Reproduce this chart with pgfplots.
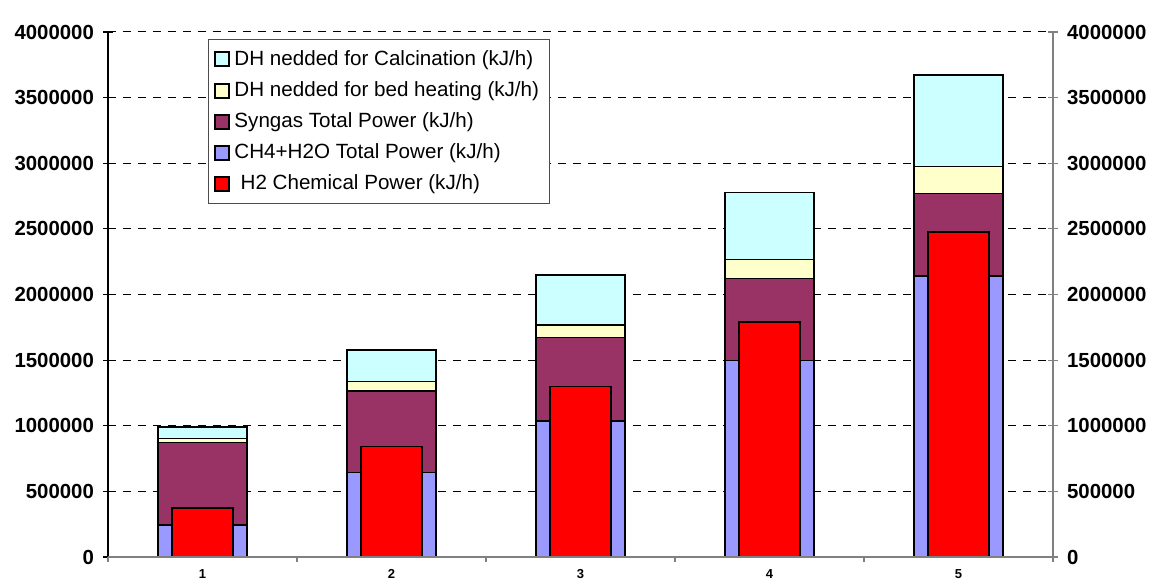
\documentclass[border=0pt]{standalone}
\usepackage{pgfplots}
\pgfplotsset{compat=1.18}
\usepackage{fontspec}
\setmainfont{Liberation Sans}

\definecolor{chblue}{HTML}{9999FF}
\definecolor{chsyn}{HTML}{993366}
\definecolor{chbed}{HTML}{FFFFCC}
\definecolor{chcalc}{HTML}{CCFFFF}

\pgfplotsset{
  sqlegend/.style={legend image code/.code={%
    \draw[##1,draw=black,line width=1pt] (0pt,-3.5pt) rectangle (7pt,3.5pt);}},
  base/.style={
    width=472.5pt, height=262.5pt, scale only axis,
    xmin=0.5, xmax=5.5, ymin=0, ymax=4000000,
    scaled y ticks=false,
  },
  yside/.style={
    ytick={0,500000,...,4000000},
    yticklabels={0,500000,1000000,1500000,2000000,2500000,3000000,3500000,4000000},
    yticklabel style={font=\bfseries\fontsize{10.2}{12}\selectfont},
    tick align=center, major tick length=5pt,
  },
}

\begin{document}
\begin{tikzpicture}
% stacked bars, left axis, grid, legend
\begin{axis}[base, yside,
  axis x line*=bottom, axis y line*=left,
  x axis line style={draw=gray, line width=0.6pt},
  y axis line style={draw=black, line width=0.6pt},
  ytick style={draw=black, line width=0.6pt},
  yticklabel style={xshift=-1pt},
  xtick={1,...,5}, xticklabels={1,2,3,4,5}, xtick style={draw=none},
  xticklabel style={font=\bfseries\fontsize{6.5}{7}\selectfont, yshift=0pt},
  ymajorgrids, grid style={black, line width=0.5pt, dash pattern=on 4pt off 3.5pt},
  ybar stacked, bar width=44.5pt,
  every axis plot/.append style={draw=black, line width=0.75pt},
  reverse legend,
  legend cell align=left,
  legend style={at={(0.1058,0.9867)}, anchor=north west,
    draw=black!70, line width=0.5pt, fill=white,
    font=\fontsize{10.3}{12}\selectfont, row sep=2.6pt,
    inner xsep=3pt, inner ysep=3.5pt},
]
\addlegendimage{sqlegend, fill=red}
\addlegendentry{\hspace{0.3em}H2 Chemical Power (kJ/h)}
\addplot[sqlegend, fill=chblue] coordinates {(1,242000) (2,643000) (3,1037000) (4,1498000) (5,2140000)};
\addlegendentry{CH4+H2O Total Power (kJ/h)}
\addplot[sqlegend, fill=chsyn] coordinates {(1,630000) (2,623000) (3,636000) (4,624000) (5,629000)};
\addlegendentry{Syngas Total Power (kJ/h)}
\addplot[sqlegend, fill=chbed] coordinates {(1,30000) (2,71000) (3,94000) (4,145000) (5,207000)};
\addlegendentry{DH nedded for bed heating (kJ/h)}
\addplot[sqlegend, fill=chcalc] coordinates {(1,88000) (2,240000) (3,382000) (4,510000) (5,697000)};
\addlegendentry{DH nedded for Calcination (kJ/h)}
\end{axis}

% H2 bars and right axis
\begin{axis}[base, yside,
  hide x axis, axis y line*=right,
  y axis line style={draw=gray, line width=0.6pt},
  ytick style={draw=gray, line width=0.6pt},
  yticklabel style={xshift=1pt},
  ybar, bar width=30.5pt,
]
\addplot[fill=red, draw=black, line width=0.75pt] coordinates {(1,374000) (2,841000) (3,1299000) (4,1790000) (5,2475000)};
\end{axis}

% tick marks between categories
\begin{axis}[base,
  hide y axis, axis x line*=bottom,
  x axis line style={draw=gray, line width=0.6pt},
  xtick={0.5,1.5,...,5.5}, xticklabels={},
  xtick style={draw=gray, line width=0.6pt},
  tick align=outside, major tick length=2.5pt,
]
\end{axis}

\pgfresetboundingbox
\path[use as bounding box] (-54pt,-13pt) rectangle (523.5pt,278.5pt);
\end{tikzpicture}
\end{document}
